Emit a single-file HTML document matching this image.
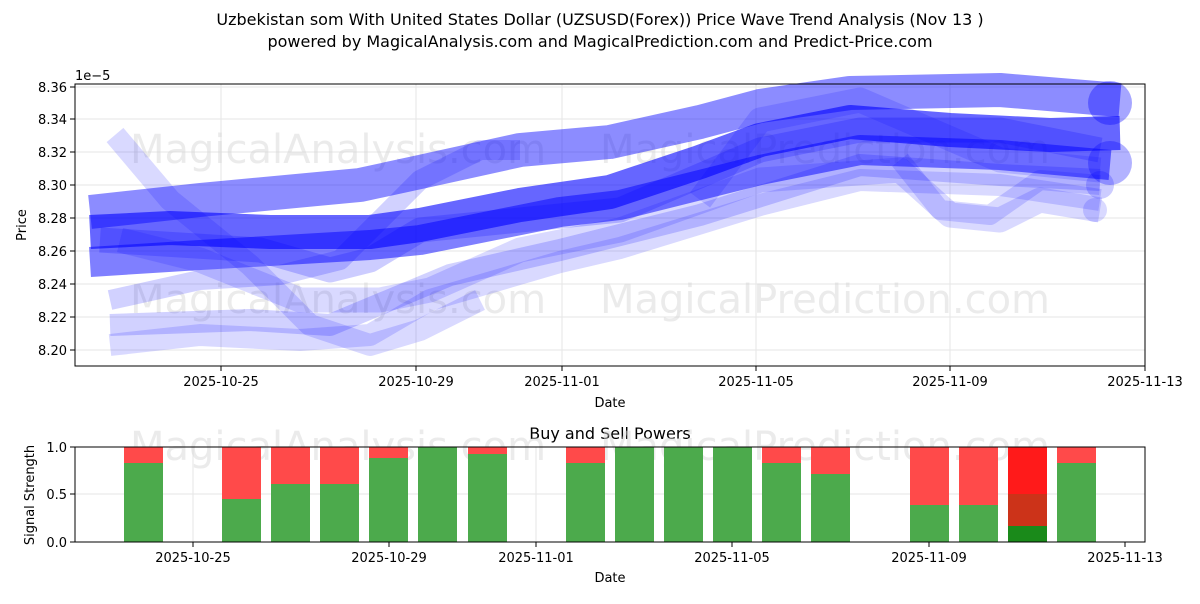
<!DOCTYPE html>
<html><head><style>
body{margin:0;background:#fff;width:1200px;height:600px;overflow:hidden;font-family:"DejaVu Sans","Liberation Sans",sans-serif;}
</style></head><body>
<svg width="1200" height="600" viewBox="0 0 1200 600" xmlns="http://www.w3.org/2000/svg" font-family="DejaVu Sans, Liberation Sans, sans-serif">
<text x="600" y="25" font-size="16" text-anchor="middle">Uzbekistan som With United States Dollar (UZSUSD(Forex)) Price Wave Trend Analysis (Nov 13 )</text>
<text x="600" y="47" font-size="16" text-anchor="middle">powered by MagicalAnalysis.com and MagicalPrediction.com and Predict-Price.com</text>

<g stroke="#e6e6e6" stroke-width="1">
<line x1="75" x2="1145" y1="87" y2="87"/><line x1="75" x2="1145" y1="119" y2="119"/><line x1="75" x2="1145" y1="152" y2="152"/><line x1="75" x2="1145" y1="185" y2="185"/><line x1="75" x2="1145" y1="218" y2="218"/><line x1="75" x2="1145" y1="251" y2="251"/><line x1="75" x2="1145" y1="284" y2="284"/><line x1="75" x2="1145" y1="317" y2="317"/><line x1="75" x2="1145" y1="350" y2="350"/>
<line y1="84" y2="366" x1="221" x2="221"/><line y1="84" y2="366" x1="416" x2="416"/><line y1="84" y2="366" x1="562" x2="562"/><line y1="84" y2="366" x1="756" x2="756"/><line y1="84" y2="366" x1="950" x2="950"/>
</g>
<g font-size="40" fill="#d8d8d8" opacity="0.5">
<text x="130" y="163">MagicalAnalysis.com</text><text x="600" y="163">MagicalPrediction.com</text>
<text x="130" y="313">MagicalAnalysis.com</text><text x="600" y="313">MagicalPrediction.com</text>
</g>
<g fill="none" stroke="#0000ff" stroke-linejoin="round" stroke-linecap="butt">
<polyline stroke-opacity="0.15" stroke-width="22" points="115,135 170,200 250,265 310,325 370,345 420,330 480,300"/>
<polyline stroke-opacity="0.15" stroke-width="22" points="110,345 200,335 300,340 370,335 430,300 560,262 620,248 760,205 860,180 1000,185 1100,200"/>
<polyline stroke-opacity="0.18" stroke-width="22" points="110,325 250,320 330,325 450,275 560,250 700,215 860,165 1000,175 1100,180"/>
<polyline stroke-opacity="0.18" stroke-width="20" points="110,300 200,280 280,275 340,260 420,180 480,150 520,150"/>
<polyline stroke-opacity="0.15" stroke-width="25" points="120,240 200,260 300,300 380,300 430,290 520,250 620,230 760,180 900,170 950,215 1000,220 1040,200 1100,210"/>
<polyline stroke-opacity="0.15" stroke-width="25" points="700,200 760,120 860,100 1000,160 1100,170"/>
<polyline stroke-opacity="0.45" stroke-width="34" points="90,212 200,200 360,185 420,172 520,150 610,142 700,122 760,106 850,93 1000,90 1120,100"/>
<polyline stroke-opacity="0.5" stroke-width="30" points="90,262 200,255 370,245 420,240 560,212 620,205 760,170 860,150 1000,155 1110,165"/>
<polyline stroke-opacity="0.6" stroke-width="34" points="90,232 170,228 270,232 370,232 420,225 520,205 610,192 700,162 760,140 850,122 950,130 1050,135 1120,133"/>
<polyline stroke-opacity="0.2" stroke-width="25" points="100,240 180,245 260,250 330,270 370,260 420,230 520,220 620,210 760,150 860,130 1000,130 1100,150"/>
<polyline stroke-opacity="0.15" stroke-width="20" points="900,160 940,210 990,215 1040,180 1100,185"/>
</g>
<g fill="#0000ff">
<circle cx="1110" cy="103" r="22" fill-opacity="0.35"/>
<circle cx="1110" cy="163" r="22" fill-opacity="0.3"/>
<circle cx="1100" cy="185" r="14" fill-opacity="0.2"/>
<circle cx="1095" cy="210" r="12" fill-opacity="0.15"/>
</g>
<rect x="75" y="84" width="1070" height="282" fill="none" stroke="#000" stroke-width="1"/>
<g font-size="13" text-anchor="end">
<text x="67" y="92">8.36</text><text x="67" y="124">8.34</text><text x="67" y="157">8.32</text><text x="67" y="190">8.30</text><text x="67" y="223">8.28</text><text x="67" y="256">8.26</text><text x="67" y="289">8.24</text><text x="67" y="322">8.22</text><text x="67" y="355">8.20</text>
</g>
<text x="75" y="80" font-size="13">1e−5</text>
<g stroke="#000"><line x1="70" x2="75" y1="87" y2="87"/><line x1="70" x2="75" y1="119" y2="119"/><line x1="70" x2="75" y1="152" y2="152"/><line x1="70" x2="75" y1="185" y2="185"/><line x1="70" x2="75" y1="218" y2="218"/><line x1="70" x2="75" y1="251" y2="251"/><line x1="70" x2="75" y1="284" y2="284"/><line x1="70" x2="75" y1="317" y2="317"/><line x1="70" x2="75" y1="350" y2="350"/>
<line y1="366" y2="371" x1="221" x2="221"/><line y1="366" y2="371" x1="416" x2="416"/><line y1="366" y2="371" x1="562" x2="562"/><line y1="366" y2="371" x1="756" x2="756"/><line y1="366" y2="371" x1="950" x2="950"/><line y1="366" y2="371" x1="1145" x2="1145"/></g>
<g font-size="13" text-anchor="middle">
<text x="221" y="386">2025-10-25</text><text x="416" y="386">2025-10-29</text><text x="562" y="386">2025-11-01</text><text x="756" y="386">2025-11-05</text><text x="950" y="386">2025-11-09</text><text x="1145" y="386">2025-11-13</text>
<text x="610" y="407">Date</text>
</g>
<text transform="translate(26,225) rotate(-90)" font-size="13" text-anchor="middle">Price</text>

<text x="610" y="439" font-size="16" text-anchor="middle">Buy and Sell Powers</text>
<g stroke="#e6e6e6"><line x1="75" x2="1145" y1="447" y2="447"/><line x1="75" x2="1145" y1="494" y2="494"/>
<line y1="447" y2="542" x1="193" x2="193"/><line y1="447" y2="542" x1="389" x2="389"/><line y1="447" y2="542" x1="536" x2="536"/><line y1="447" y2="542" x1="732" x2="732"/><line y1="447" y2="542" x1="929" x2="929"/></g>
<g font-size="40" fill="#d8d8d8" opacity="0.5"><text x="130" y="460">MagicalAnalysis.com</text><text x="600" y="460">MagicalPrediction.com</text></g>
<g>
<rect x="124" y="447" width="39" height="16" fill="#ff4a4a"/><rect x="124" y="463" width="39" height="79" fill="#4caa4c"/>
<rect x="222" y="447" width="39" height="52" fill="#ff4a4a"/><rect x="222" y="499" width="39" height="43" fill="#4caa4c"/>
<rect x="271" y="447" width="39" height="37" fill="#ff4a4a"/><rect x="271" y="484" width="39" height="58" fill="#4caa4c"/>
<rect x="320" y="447" width="39" height="37" fill="#ff4a4a"/><rect x="320" y="484" width="39" height="58" fill="#4caa4c"/>
<rect x="369" y="447" width="39" height="11" fill="#ff4a4a"/><rect x="369" y="458" width="39" height="84" fill="#4caa4c"/>
<rect x="418" y="447" width="39" height="95" fill="#4caa4c"/>
<rect x="468" y="447" width="39" height="7" fill="#ff4a4a"/><rect x="468" y="454" width="39" height="88" fill="#4caa4c"/>
<rect x="566" y="447" width="39" height="16" fill="#ff4a4a"/><rect x="566" y="463" width="39" height="79" fill="#4caa4c"/>
<rect x="615" y="447" width="39" height="95" fill="#4caa4c"/>
<rect x="664" y="447" width="39" height="95" fill="#4caa4c"/>
<rect x="713" y="447" width="39" height="95" fill="#4caa4c"/>
<rect x="762" y="447" width="39" height="16" fill="#ff4a4a"/><rect x="762" y="463" width="39" height="79" fill="#4caa4c"/>
<rect x="811" y="447" width="39" height="27" fill="#ff4a4a"/><rect x="811" y="474" width="39" height="68" fill="#4caa4c"/>
<rect x="910" y="447" width="39" height="58" fill="#ff4a4a"/><rect x="910" y="505" width="39" height="37" fill="#4caa4c"/>
<rect x="959" y="447" width="39" height="58" fill="#ff4a4a"/><rect x="959" y="505" width="39" height="37" fill="#4caa4c"/>
<rect x="1008" y="447" width="39" height="47" fill="#ff1a1a"/><rect x="1008" y="494" width="39" height="32" fill="#cc3319"/><rect x="1008" y="526" width="39" height="16" fill="#1a8a1a"/>
<rect x="1057" y="447" width="39" height="16" fill="#ff4a4a"/><rect x="1057" y="463" width="39" height="79" fill="#4caa4c"/>
</g>
<rect x="75" y="447" width="1070" height="95" fill="none" stroke="#000"/>
<g stroke="#000"><line x1="70" x2="75" y1="447" y2="447"/><line x1="70" x2="75" y1="494" y2="494"/><line x1="70" x2="75" y1="542" y2="542"/>
<line y1="542" y2="547" x1="193" x2="193"/><line y1="542" y2="547" x1="389" x2="389"/><line y1="542" y2="547" x1="536" x2="536"/><line y1="542" y2="547" x1="732" x2="732"/><line y1="542" y2="547" x1="929" x2="929"/><line y1="542" y2="547" x1="1125" x2="1125"/></g>
<g font-size="13" text-anchor="end"><text x="67" y="452">1.0</text><text x="67" y="499">0.5</text><text x="67" y="547">0.0</text></g>
<g font-size="13" text-anchor="middle">
<text x="193" y="562">2025-10-25</text><text x="389" y="562">2025-10-29</text><text x="536" y="562">2025-11-01</text><text x="732" y="562">2025-11-05</text><text x="929" y="562">2025-11-09</text><text x="1125" y="562">2025-11-13</text>
<text x="610" y="582">Date</text>
</g>
<text transform="translate(34,495) rotate(-90)" font-size="13" text-anchor="middle">Signal Strength</text>
</svg>
</body></html>
